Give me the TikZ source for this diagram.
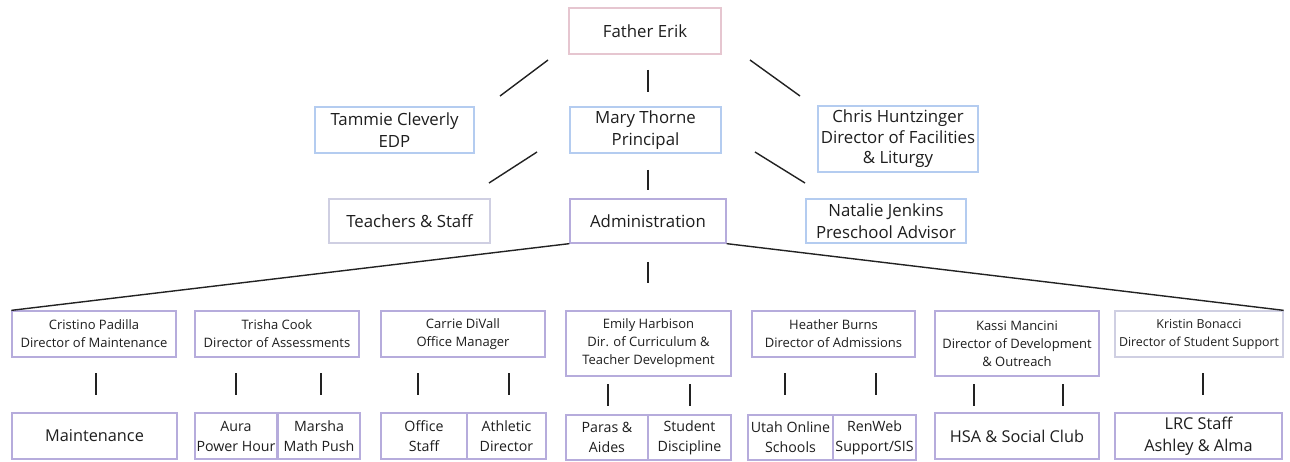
\documentclass[tikz,border=0pt]{standalone}
\usepackage{fontspec}
\setmainfont{Open Sans}
\definecolor{pinkb}{HTML}{E6C6D0}
\definecolor{blueb}{HTML}{B4CCF0}
\definecolor{greyb}{HTML}{CFCFE2}
\definecolor{purpb}{HTML}{B6ACDC}
\definecolor{ink}{HTML}{222222}
\definecolor{txt}{HTML}{1E1E1E}
\begin{document}
\begin{tikzpicture}[x=1pt,y=-1pt,
  box/.style={draw=#1,line width=1.3pt,fill=white,rectangle,inner sep=0pt,align=center,text=txt},
  big/.style={font=\fontsize{16.8}{22}\selectfont},
  bigc/.style={font=\fontsize{16.8}{20.5}\selectfont},
  dir/.style={font=\fontsize{13}{18}\selectfont},
  dirs/.style={font=\fontsize{12.4}{18}\selectfont},
  low/.style={font=\fontsize{14.2}{20}\selectfont},
  lowb/.style={font=\fontsize{16.3}{22}\selectfont},
  conn/.style={draw=ink,line width=1.4pt}]
\useasboundingbox (0,0) rectangle (1290,462);
\fill[white] (0,0) rectangle (1290,462);
% top levels
\node[box=pinkb,big,minimum width=152pt,minimum height=46pt] (fe) at (645,31) {Father Erik};
\node[box=blueb,big,minimum width=159pt,minimum height=46pt] (tc) at (394.5,130) {Tammie Cleverly\\EDP};
\node[box=blueb,big,minimum width=151pt,minimum height=46pt] (mt) at (645.5,130) {Mary Thorne\\Principal};
\node[box=blueb,bigc,minimum width=160pt,minimum height=66pt] (ch) at (898,139) {Chris Huntzinger\\Director of Facilities\\\& Liturgy};
\node[box=greyb,big,minimum width=161pt,minimum height=44pt] (ts) at (409.5,221) {Teachers \& Staff};
\node[box=purpb,big,minimum width=156pt,minimum height=44pt] (adm) at (648,221) {Administration};
\node[box=blueb,big,minimum width=160pt,minimum height=44pt] (nj) at (886,221) {Natalie Jenkins\\Preschool Advisor};
% directors
\node[box=purpb,dir,minimum width=164pt,minimum height=46pt] (cp) at (94,334) {Cristino Padilla\\Director of Maintenance};
\node[box=purpb,dir,minimum width=164pt,minimum height=46pt] (tk) at (277,334) {Trisha Cook\\Director of Assessments};
\node[box=purpb,dir,minimum width=164pt,minimum height=46pt] (cd) at (463,334) {Carrie DiVall\\Office Manager};
\node[box=purpb,dir,minimum width=165pt,minimum height=65pt] (eh) at (648.5,343.5) {Emily Harbison\\Dir. of Curriculum \&\\Teacher Development};
\node[box=purpb,dir,minimum width=163pt,minimum height=46pt] (hb) at (833.5,334) {Heather Burns\\Director of Admissions};
\node[box=purpb,dir,minimum width=164pt,minimum height=65pt] (km) at (1017,343.5) {Kassi Mancini\\Director of Development\\\& Outreach};
\node[box=greyb,dirs,minimum width=168pt,minimum height=46pt] (kb) at (1199,334) {Kristin Bonacci\\Director of Student Support};
% bottom
\node[box=purpb,lowb,minimum width=165pt,minimum height=46pt] (mn) at (94.5,436) {Maintenance};
\node[box=purpb,low,minimum width=82pt,minimum height=46pt] (au) at (236,436) {Aura\\Power Hour};
\node[box=purpb,low,minimum width=82pt,minimum height=46pt] (ms) at (319,436) {Marsha\\Math Push};
\node[box=purpb,low,minimum width=86pt,minimum height=46pt] (os) at (424,436) {Office\\Staff};
\node[box=purpb,low,minimum width=79pt,minimum height=46pt] (ad) at (506.5,436) {Athletic\\Director};
\node[box=purpb,low,minimum width=82pt,minimum height=45pt] (pa) at (607,437.5) {Paras \&\\Aides};
\node[box=purpb,low,minimum width=83pt,minimum height=45pt] (sd) at (689.5,437.5) {Student\\Discipline};
\node[box=purpb,low,minimum width=85pt,minimum height=45pt] (uo) at (790.5,437.5) {Utah Online\\Schools};
\node[box=purpb,low,minimum width=83pt,minimum height=45pt] (rw) at (874.5,437.5) {RenWeb\\Support/SIS};
\node[box=purpb,lowb,minimum width=164pt,minimum height=46pt] (hsa) at (1017,436) {HSA \& Social Club};
\node[box=purpb,lowb,minimum width=167pt,minimum height=46pt] (lrc) at (1198.5,436) {LRC Staff\\Ashley \& Alma};
% connector end coordinates
\coordinate (a1) at (548,60); \coordinate (a2) at (500,96);
\coordinate (b1) at (648,70); \coordinate (b2) at (648,92);
\coordinate (c1) at (750,60); \coordinate (c2) at (800,96);
\coordinate (d1) at (537,152); \coordinate (d2) at (489,183);
\coordinate (e1) at (648,170); \coordinate (e2) at (648,190);
\coordinate (f1) at (755,152); \coordinate (f2) at (805,183);
\coordinate (g1) at (648,262); \coordinate (g2) at (648,283);
\draw[conn] (a1) -- (a2);
\draw[conn] (b1) -- (b2);
\draw[conn] (c1) -- (c2);
\draw[conn] (d1) -- (d2);
\draw[conn] (e1) -- (e2);
\draw[conn] (f1) -- (f2);
\draw[conn] (g1) -- (g2);
\draw[conn] (adm.south west) -- (cp.north west);
\draw[conn] (adm.south east) -- (kb.north east);
% ticks
\foreach \nm/\x/\ya/\yb in {t1/96/373/395, t2/236/373/395, t3/321/373/395, t4/418/373/395, t5/509/373/395,
  t6/608/384/406, t7/690/384/406, t8/785/373/395, t9/876/373/395, t10/974/384/406, t11/1063/384/406, t12/1203/373/395}{
  \coordinate (\nm a) at (\x,\ya); \coordinate (\nm b) at (\x,\yb);
  \draw[conn] (\nm a) -- (\nm b);
}
\end{tikzpicture}
\end{document}
